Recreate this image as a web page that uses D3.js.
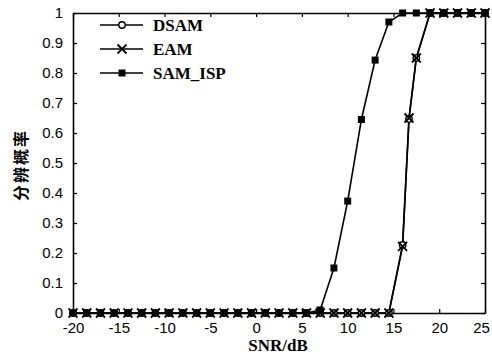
<!DOCTYPE html>
<html>
<head>
<meta charset="utf-8">
<script src="https://cdn.jsdelivr.net/npm/d3@7"></script>
<style>
  body { margin: 0; background: #fff; }
  svg { display: block; }
</style>
</head>
<body>
<div id="chart-area"></div>
<script>
// data
let snr = [-20, -18.5, -17, -15.5, -14, -12.5, -11, -9.5, -8, -6.5, -5, -3.5, -2, -0.5, 1, 2.5, 4, 5.5,
    7, 8.5, 10, 11.5, 13, 14.5, 16, 17.5, 19, 20.5, 22, 23.5, 25];
let samIsp = [0, 0, 0, 0, 0, 0, 0, 0, 0, 0, 0, 0, 0, 0, 0, 0, 0, 0,
    0.01, 0.15, 0.373, 0.645, 0.843, 0.97, 1, 1, 1, 1, 1, 1, 1];
// DSAM / EAM have one extra point in the steep part
let snrD = [-20, -18.5, -17, -15.5, -14, -12.5, -11, -9.5, -8, -6.5, -5, -3.5, -2, -0.5, 1, 2.5, 4, 5.5,
    7, 8.5, 10, 11.5, 13, 14.5, 16, 16.7, 17.5, 19, 20.5, 22, 23.5, 25];
let dsam = [0, 0, 0, 0, 0, 0, 0, 0, 0, 0, 0, 0, 0, 0, 0, 0, 0, 0,
    0, 0, 0, 0, 0, 0, 0.227, 0.647, 0.85, 1, 1, 1, 1, 1];
let eam = [0, 0, 0, 0, 0, 0, 0, 0, 0, 0, 0, 0, 0, 0, 0, 0, 0, 0,
    0, 0, 0, 0, 0, 0, 0.222, 0.65, 0.85, 1, 1, 1, 1, 1];
let xTicks = [-20, -15, -10, -5, 0, 5, 10, 15, 20, 25];
let yTicks = [0, 0.1, 0.2, 0.3, 0.4, 0.5, 0.6, 0.7, 0.8, 0.9, 1];
let seriesNames = ["DSAM", "EAM", "SAM_ISP"];

let margin = {left: 73, right: 7, top: 13, bottom: 47};
let width = 492 - margin.left - margin.right,
    height = 360 - margin.top - margin.bottom;

let svg = d3.select("#chart-area")
    .append("svg")
    .attr("width", 492)
    .attr("height", 360);
let g = svg.append("g")
    .attr("transform", "translate(" + margin.left + "," + margin.top + ")");

// Scales
let x = d3.scaleLinear().domain([-20, 25]).range([0, width]);
let y = d3.scaleLinear().domain([0, 1]).range([height, 0]);

// Axes (ticks point inward)
let xAxisG = g.append("g")
    .attr("transform", "translate(0," + height + ")")
    .call(d3.axisBottom(x).tickValues(xTicks).tickSizeInner(-4).tickSizeOuter(0).tickPadding(9)
        .tickFormat(d => String(d)));
g.append("g")
    .call(d3.axisLeft(y).tickValues(yTicks).tickSizeInner(-4).tickSizeOuter(0).tickPadding(10)
        .tickFormat(d => String(+d.toFixed(1))));
g.append("g")
    .attr("transform", "translate(" + width + ",0)")
    .call(d3.axisRight(y).tickValues(yTicks).tickSizeInner(-4).tickSizeOuter(0).tickFormat(""));
g.append("g")
    .call(d3.axisTop(x).tickValues(xTicks).tickSizeInner(-4).tickSizeOuter(0).tickFormat(""));

g.selectAll(".domain").attr("stroke", "#000").attr("stroke-width", 1.6);
g.selectAll(".tick line").attr("stroke", "#000").attr("stroke-width", 1.2);
g.selectAll(".tick text")
    .attr("fill", "#000")
    .attr("font-family", "Liberation Sans, Arial, sans-serif")
    .attr("font-size", "15px");
// last label sits right at the edge, pull it in a bit
xAxisG.selectAll(".tick text").filter(d => d === 25).attr("dx", -4);

// Labels
svg.append("text")
    .attr("x", 278)
    .attr("y", 351)
    .attr("text-anchor", "middle")
    .attr("font-family", "Liberation Serif, Times New Roman, serif")
    .attr("font-weight", "bold")
    .attr("font-size", "17px")
    .text("SNR/dB");
svg.append("text")
    .attr("transform", "translate(27,165) rotate(-90)")
    .attr("text-anchor", "middle")
    .attr("font-family", "Noto Sans CJK SC, sans-serif")
    .attr("font-weight", "bold")
    .attr("font-size", "16px")
    .attr("letter-spacing", "2px")
    .text("分辨概率");

// Lines
let line = d3.line().x(d => x(d[0])).y(d => y(d[1]));
let dsamPts = snrD.map((s, i) => [s, dsam[i]]);
let eamPts = snrD.map((s, i) => [s, eam[i]]);
let samPts = snr.map((s, i) => [s, samIsp[i]]);

[samPts, eamPts, dsamPts].forEach(pts => {
    g.append("path")
        .datum(pts)
        .attr("fill", "none")
        .attr("stroke", "#000")
        .attr("stroke-width", 1.6)
        .attr("d", line);
});

// markers
function drawSquare(sel, cx, cy) {
    sel.append("rect")
        .attr("x", cx - 3.5).attr("y", cy - 3.5)
        .attr("width", 7).attr("height", 7)
        .attr("fill", "#000");
}
function drawCross(sel, cx, cy) {
    sel.append("path")
        .attr("d", `M${cx - 4.5},${cy - 4.5}L${cx + 4.5},${cy + 4.5}M${cx - 4.5},${cy + 4.5}L${cx + 4.5},${cy - 4.5}`)
        .attr("stroke", "#000")
        .attr("stroke-width", 1.8);
}
function drawCircle(sel, cx, cy) {
    sel.append("circle")
        .attr("cx", cx).attr("cy", cy).attr("r", 3.2)
        .attr("fill", "#fff")
        .attr("stroke", "#000")
        .attr("stroke-width", 1.4);
}

let marks = g.append("g");
dsamPts.forEach(d => drawCircle(marks, x(d[0]), y(d[1])));
samPts.forEach(d => drawSquare(marks, x(d[0]), y(d[1])));
eamPts.forEach(d => drawCross(marks, x(d[0]), y(d[1])));

// LEGEND
let markerFns = [drawCircle, drawCross, drawSquare];
let legend = svg.append("g").attr("transform", "translate(100,25)");
seriesNames.forEach((name, i) => {
    let row = legend.append("g").attr("transform", `translate(0,${i * 24})`);
    row.append("line")
        .attr("x1", 0).attr("x2", 43)
        .attr("stroke", "#000").attr("stroke-width", 1.6);
    markerFns[i](row, 22, 0);
    row.append("text")
        .attr("x", 53)
        .attr("y", 6)
        .attr("font-family", "Liberation Serif, Times New Roman, serif")
        .attr("font-weight", "bold")
        .attr("font-size", "17px")
        .text(name);
});
</script>
</body>
</html>
